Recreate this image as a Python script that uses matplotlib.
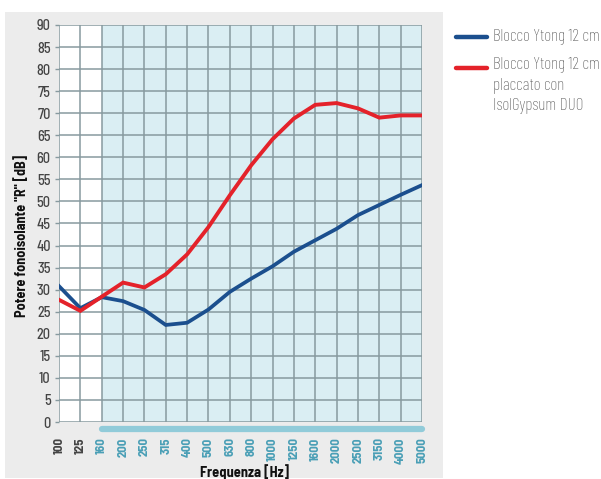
import matplotlib
matplotlib.use("Agg")
import matplotlib.pyplot as plt
from matplotlib.patches import Rectangle
import matplotlib.transforms as mtransforms

freqs = ["100", "125", "160", "200", "250", "315", "400", "500", "630", "800",
         "1000", "1250", "1600", "2000", "2500", "3150", "4000", "5000"]
ytong = [30.8, 25.8, 28.3, 27.4, 25.4, 22.0, 22.5, 25.5, 29.5, 32.5,
         35.3, 38.6, 41.2, 43.8, 46.9, 49.2, 51.5, 53.7]
ytong_duo = [27.7, 25.2, 28.4, 31.6, 30.5, 33.5, 38.0, 44.2, 51.4, 58.2,
             64.1, 68.8, 71.9, 72.3, 71.1, 69.0, 69.5, 69.5]
yticks = list(range(0, 91, 5))
label_a = "Blocco Ytong 12 cm"
label_b = "Blocco Ytong 12 cm\nplaccato con\nIsolGypsum DUO"

SEMI = ["Barlow Semi Condensed", "DejaVu Sans"]
COND = ["Barlow Condensed", "DejaVu Sans"]
BLUE = "#1b4f8e"
RED = "#e4222a"
TEAL = "#4a9fb6"
GRID = "#879a9f"

W, H = 601, 479
fig = plt.figure(figsize=(W / 100, H / 100), dpi=100)
fig.patch.set_facecolor("white")

# gray panel
fig.patches.append(Rectangle((5 / W, 1 - 478 / H), (443 - 5) / W, (478 - 12) / H,
                             transform=fig.transFigure, facecolor="#ececec",
                             edgecolor="none", zorder=0))

ax = fig.add_axes([59 / W, 1 - 422 / H, (422 - 59) / W, (422 - 25) / H])
ax.set_zorder(1)
n = len(freqs)
x = list(range(n))
ax.set_xlim(0, n - 1)
ax.set_ylim(0, 90)
ax.set_facecolor("white")
ax.axvspan(2, n - 1, color="#daeef3", zorder=0, lw=0)

for i in x:
    ax.axvline(i, color=GRID, lw=1.1, zorder=1)
for v in yticks:
    ax.axhline(v, color=GRID, lw=1.1, zorder=1)

for s in ax.spines.values():
    s.set_visible(False)

ax.plot(x, ytong, color=BLUE, lw=2.7, zorder=3, solid_joinstyle="miter")
ax.plot(x, ytong_duo, color=RED, lw=2.8, zorder=3, solid_joinstyle="miter")

ax.set_yticks(yticks)
ax.set_yticklabels([str(v) for v in yticks], fontfamily=SEMI, fontsize=10.3,
                   fontweight="medium", color="#444444")
ax.tick_params(axis="y", length=3, width=1, color=GRID, pad=3)
ax.set_xticks(x)
ax.set_xticklabels(freqs, rotation=90, fontfamily=SEMI, fontsize=9.2, fontweight="bold")
for i, t in enumerate(ax.get_xticklabels()):
    t.set_color("#444444" if i < 2 else TEAL)
ax.tick_params(axis="x", length=0, pad=11)

# blue bar under the axis (from 160 to 5000)
trans = mtransforms.blended_transform_factory(ax.transData, ax.transAxes)
ax.plot([2, n - 1], [-7 / 397, -7 / 397], transform=trans, color="#91cbd9",
        lw=4.5, solid_capstyle="round", clip_on=False, zorder=2)

fig.text(245 / W, 1 - 472 / H, "Frequenza [Hz]", ha="center", va="center",
         fontfamily=SEMI, fontweight="bold", fontsize=10.4, color="#111111")
fig.text(22 / W, 1 - 236 / H, 'Potere fonoisolante "R" [dB]', ha="center", va="center",
         rotation=90, fontfamily=SEMI, fontweight="bold", fontsize=10.2,
         color="#111111")

# legend
fig.lines.append(plt.Line2D([456 / W, 487 / W], [1 - 37 / H, 1 - 37 / H],
                            transform=fig.transFigure, color=BLUE, lw=3.2,
                            solid_capstyle="round"))
fig.lines.append(plt.Line2D([456 / W, 487 / W], [1 - 68 / H, 1 - 68 / H],
                            transform=fig.transFigure, color=RED, lw=3.2,
                            solid_capstyle="round"))
fig.text(493 / W, 1 - 37 / H, label_a, ha="left", va="center", fontfamily=COND,
         fontweight="light", fontsize=12.4, color="#555555")
fig.text(493 / W, 1 - 57 / H, label_b, ha="left", va="top", fontfamily=COND,
         fontweight="light", fontsize=12.4, color="#555555", linespacing=1.38)

fig.savefig("out.png", dpi=100)
